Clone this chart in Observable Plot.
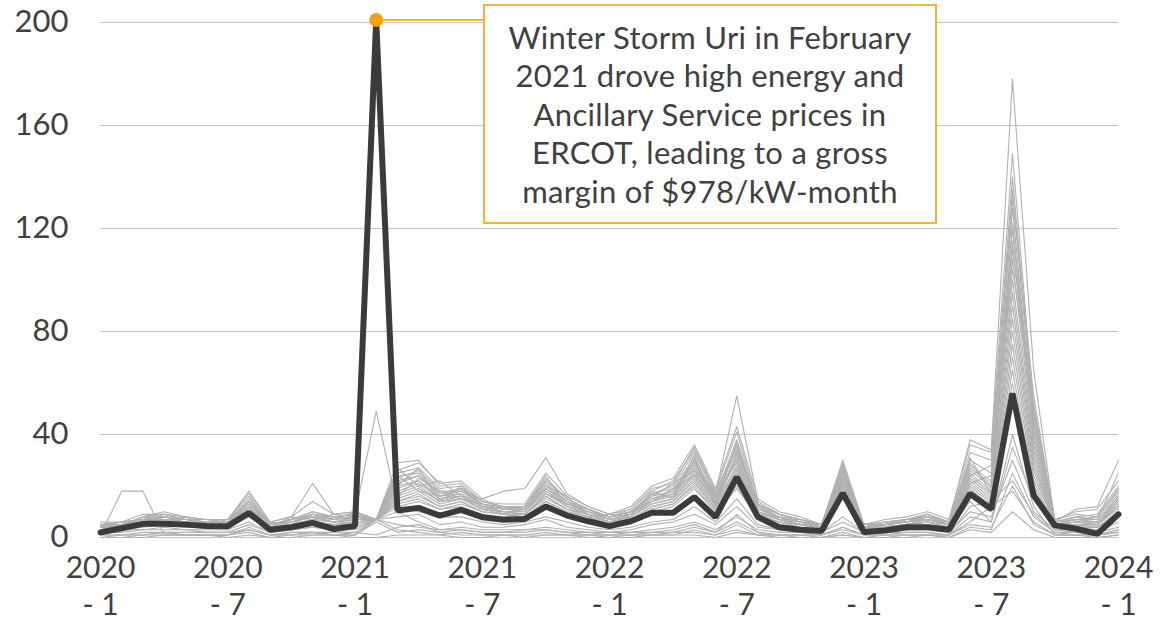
<!DOCTYPE html>
<html>
<head>
<meta charset="utf-8">
<script src="https://cdn.jsdelivr.net/npm/d3@7"></script>
<script src="https://cdn.jsdelivr.net/npm/@observablehq/plot@0.6"></script>
<style>
  html, body { margin: 0; padding: 0; background: #ffffff; }
  #wrap { position: relative; width: 1160px; height: 622px; font-family: Lato, "Open Sans", sans-serif; color: #404040; }
  #note {
    position: absolute; left: 483px; top: 4px; width: 450px; height: 216px;
    border: 2px solid #f5b33a; background: #ffffff; box-sizing: content-box;
    font-family: Lato, sans-serif; font-size: 31px; letter-spacing: 0.3px; line-height: 38.5px; color: #404040;
    text-align: center;
    display: flex; flex-direction: column; justify-content: center;
  }
</style>
</head>
<body>
<div id="wrap"><div id="chart"></div><div id="note"></div></div>
<script>
// Month labels (index 0 = 2020-1 ... 48 = 2024-1), ticks every 6 months
const xTickIndex = [0, 6, 12, 18, 24, 30, 36, 42, 48];
const xTickLabels = ["2020\n- 1", "2020\n- 7", "2021\n- 1", "2021\n- 7", "2022\n- 1", "2022\n- 7", "2023\n- 1", "2023\n- 7", "2024\n- 1"];
const yTicks = [0, 40, 80, 120, 160, 200];

// Highlighted (dark) series
const darkValues = [
  2, 3.6, 5.3, 5.3, 5, 4.5, 4.4, 9.5, 3, 4, 5.7, 3.3,
  4.5, 201, 10.5, 11.5, 8.5, 10.7, 7.9, 6.9, 7.2, 12, 8.5, 6.3,
  4.4, 6.3, 9.6, 9.6, 15.7, 7.9, 23.4, 7.9, 4, 3, 2.5, 17.2,
  2.1, 2.7, 4, 4, 3, 17, 11, 56, 16.3, 4.7, 3.4, 1.4,
  9
];

// Other (grey) series
const grayU1 = [5,5,8,9,8,7,7,16,5,7,9,8, 9,7,29,30,20,21,14,12,12,22,15,11, 8,11,18,22,34,17,55,14,9,7,5,29, 4,6,7,9,6,38,34,178,65,6,11,12, 30];
const grayU2 = [4,5,8,10,8,7,7,18,6,8,21,9, 10,7,26,29,21,22,15,18,19,31,17,12, 9,12,20,23,36,19,43,15,10,8,5,30, 5,7,8,10,7,36,33,149,50,7,10,11, 22];
const grayU3 = [6,6,9,9,7,7,7,17,6,8,14,9, 10,7,25,27,19,20,14,13,13,25,16,12, 9,11,19,21,35,18,41,13,9,7,5,28, 5,6,7,9,6,33,30,140,48,7,9,8, 18];
const grayU4 = [5,6,7,8,7,6,6,15,5,7,10,8, 9,7,24,25,17,19,14,12,12,23,15,11, 8,10,17,20,33,16,38,13,9,7,5,27, 4,6,7,9,6,30,25,135,45,6,8,7, 17];
const grayU5 = [5,5,8,8,7,6,6,14,5,7,9,8, 9,7,23,26,18,18,13,12,11,22,15,11, 8,10,17,19,31,15,36,12,8,6,4,27, 4,5,7,8,6,28,22,128,42,6,7,6, 16];
const grayU6 = [5,6,7,8,7,6,6,14,5,7,10,8, 9,7,22,24,17,19,13,11,11,21,14,11, 8,10,16,18,30,16,34,12,8,6,4,26, 4,5,6,8,6,27,21,120,40,6,7,6, 15];
const grayU7 = [4,5,7,8,7,6,6,13,5,6,9,7, 8,7,21,24,16,18,13,11,11,20,14,10, 7,9,15,18,29,15,32,11,8,6,4,25, 4,5,6,8,5,26,20,115,38,5,6,6, 14];
const grayU8 = [4,5,7,7,6,6,6,13,5,6,8,7, 8,7,20,22,16,17,12,11,10,19,13,10, 7,9,15,17,28,14,31,11,8,6,4,24, 4,5,6,7,5,25,18,108,36,5,6,5, 14];
const grayU9 = [4,5,6,7,6,6,6,12,5,6,8,7, 8,7,19,22,15,17,12,10,10,18,13,10, 7,9,14,17,27,14,30,10,7,5,4,23, 4,5,6,7,5,24,17,100,34,5,6,5, 13];
const grayU10 = [4,4,6,7,6,5,5,12,4,6,8,6, 7,7,18,21,15,16,12,10,10,18,12,9, 7,8,14,16,26,13,28,10,7,5,4,22, 4,5,6,7,5,23,16,95,32,5,5,5, 12];
const grayU11 = [4,4,6,7,6,5,5,11,4,5,7,6, 7,7,17,20,14,16,11,10,9,17,12,9, 6,8,13,15,25,13,27,10,7,5,4,21, 4,4,5,7,5,22,15,90,30,5,5,5, 12];
const grayU12 = [3,4,6,6,6,5,5,11,4,5,7,6, 7,7,16,19,14,15,11,10,9,16,11,9, 6,8,13,15,24,12,26,9,7,5,4,20, 4,4,5,7,5,21,14,85,28,5,5,5, 11];
const grayU13 = [3,4,5,6,5,5,5,10,4,5,7,6, 6,7,15,18,13,15,11,9,9,16,11,9, 6,7,12,14,23,12,25,9,6,5,4,20, 3,4,5,6,5,20,13,80,26,5,5,4, 10];
const grayU14 = [3,4,5,6,5,5,5,10,4,5,6,5, 6,7,14,17,12,14,10,9,9,15,11,8, 6,7,12,14,22,11,24,9,6,5,3,19, 3,4,5,6,4,19,12,75,24,5,4,4, 10];
const grayU15 = [3,3,5,5,5,4,4,9,3,4,6,5, 6,7,14,16,12,14,10,9,8,14,10,8, 5,7,11,13,21,11,22,8,6,4,3,18, 3,4,5,6,4,18,11,70,22,4,4,4, 9];
const grayU16 = [3,3,5,5,5,4,4,9,3,4,6,5, 5,7,13,15,11,13,10,9,8,14,10,8, 5,7,11,13,20,10,20,8,6,4,3,18, 3,4,5,6,4,17,11,65,20,4,4,4, 9];
const grayU17 = [3,3,4,5,4,4,4,8,3,4,5,4, 9,49,12,14,11,12,9,8,8,13,9,7, 5,6,10,12,19,10,19,8,5,4,3,17, 3,3,4,5,4,16,10,60,18,4,4,3, 8];
const grayU18 = [5,4,6,9,7,7,6,11,4,8,7,9, 8,7,27,20,22,16,15,11,12,24,12,10, 8,9,16,21,26,18,35,12,9,6,5,22, 5,5,7,8,6,24,28,132,55,6,8,9, 20];
const grayU19 = [4,6,7,6,8,5,7,14,6,5,9,7, 10,7,20,27,14,20,11,12,10,20,16,8, 9,8,18,15,30,12,33,13,7,7,4,24, 4,6,6,9,5,29,19,112,47,5,7,7, 25];
const grayU20 = [3,5,5,8,6,6,5,12,4,7,8,8, 7,7,16,23,18,15,13,9,11,19,14,9, 6,10,14,19,24,16,29,9,8,5,4,21, 3,5,6,7,6,21,24,104,52,5,6,6, 16];
const grayU21 = [5,4,8,7,7,7,6,10,5,6,8,6, 8,7,24,18,16,19,12,10,9,17,13,11, 7,9,17,16,32,13,37,10,8,6,5,26, 4,4,7,7,5,31,17,122,44,6,7,8, 19];
const grayL1 = [1,18,18,1,1,1,1,3,1,1,2,1, 1,7,5,4,3,3,2,2,2,3,2,1, 1,1,2,2,4,2,6,2,1,1,1,3, 1,1,1,1,1,5,4,20,5,1,1,1, 3];
const grayL2 = [0,1,1,2,1,1,1,4,1,1,2,1, 1,7,3,2,1,2,1,1,1,2,1,1, 1,1,1,1,3,1,5,1,1,1,0,2, 0,1,1,1,1,8,6,40,12,1,1,1, 2];
const grayL3 = [2,2,3,3,3,2,2,5,2,3,4,3, 3,7,8,9,5,6,4,4,5,7,4,3, 2,3,5,6,9,5,12,4,3,2,2,6, 2,2,3,3,2,10,8,30,10,3,2,2, 4];
const grayL4 = [0,0,0,1,1,1,1,2,0,1,1,1, 1,6,2,3,2,1,1,1,1,1,1,1, 0,1,1,2,2,1,3,1,1,0,0,1, 0,0,1,1,0,4,3,25,8,2,1,0, 1];
const grayL5 = [1,1,2,2,2,2,2,3,1,2,2,2, 2,7,10,6,3,4,3,3,3,4,3,2, 2,2,3,4,6,3,8,3,2,2,1,4, 1,2,2,2,1,12,14,22,9,2,2,1, 3];
const grayL6 = [0,0,1,1,1,1,0,1,0,0,1,1, 0,0,1,1,1,0,0,1,0,1,1,0, 0,0,1,1,1,0,2,1,0,0,0,1, 0,0,0,1,0,3,2,10,3,0,0,0, 1];
const grayL7 = [2,3,3,4,3,3,3,6,2,3,4,3, 4,7,12,10,8,8,6,5,6,8,6,4, 3,4,6,7,12,6,15,5,3,3,2,8, 2,3,3,4,3,14,6,35,15,3,3,2, 6];
const grayL8 = [1,1,1,2,1,1,1,3,1,2,2,1, 2,1,4,5,2,3,2,2,3,3,2,2, 1,2,2,3,5,2,9,2,1,1,1,4, 1,1,2,2,1,6,12,18,6,1,1,1, 2];

const graySeries = [grayU1, grayU2, grayU3, grayU4, grayU5, grayU6, grayU7, grayU8, grayU9,
  grayU10, grayU11, grayU12, grayU13, grayU14, grayU15, grayU16, grayU17,
  grayU18, grayU19, grayU20, grayU21,
  grayL1, grayL2, grayL3, grayL4, grayL5, grayL6, grayL7, grayL8];

// Annotation
const noteLines = ["Winter Storm Uri in February", "2021 drove high energy and", "Ancillary Service prices in", "ERCOT, leading to a gross", "margin of $978/kW-month"];
const notePoint = [{i: 13, v: 201}];
const noteLink = [{i1: 13, i2: 18.1, v: 201}];

const grayData = graySeries.flatMap((vals, s) => vals.map((v, i) => ({s, i, v})));
const darkData = darkValues.map((v, i) => ({i, v}));

const chart = Plot.plot({
  width: 1160,
  height: 622,
  marginLeft: 100,
  marginRight: 42,
  marginTop: 22,
  marginBottom: 85,
  style: {fontFamily: "Lato, sans-serif", color: "#404040", background: "#ffffff", overflow: "visible"},
  x: {domain: [0, 48]},
  y: {domain: [0, 200]},
  marks: [
    Plot.gridY(yTicks, {stroke: "#c4c4c4", strokeOpacity: 1, strokeWidth: 1}),
    Plot.axisY(yTicks, {tickSize: 0, tickPadding: 32, fontSize: 31, label: null}),
    Plot.axisX(xTickIndex, {tickSize: 0, tickPadding: 14, fontSize: 30, lineHeight: 1.24, label: null,
      tickFormat: (d) => xTickLabels[xTickIndex.indexOf(d)]}),
    Plot.lineY(grayData, {x: "i", y: "v", z: "s", stroke: "#b0b0b0", strokeWidth: 1.1}),
    Plot.lineY(darkData, {x: "i", y: "v", stroke: "#3b3b3b", strokeWidth: 6, strokeLinejoin: "miter"}),
    Plot.link(noteLink, {x1: "i1", x2: "i2", y1: "v", y2: "v", stroke: "#f5b33a", strokeWidth: 2}),
    Plot.dot(notePoint, {x: "i", y: "v", r: 7, fill: "#f2a20c", stroke: "none"})
  ]
});
document.getElementById("chart").appendChild(chart);
document.getElementById("note").innerHTML = noteLines.map(t => `<div>${t.replace("$", "&#36;")}</div>`).join("");
</script>
</body>
</html>
